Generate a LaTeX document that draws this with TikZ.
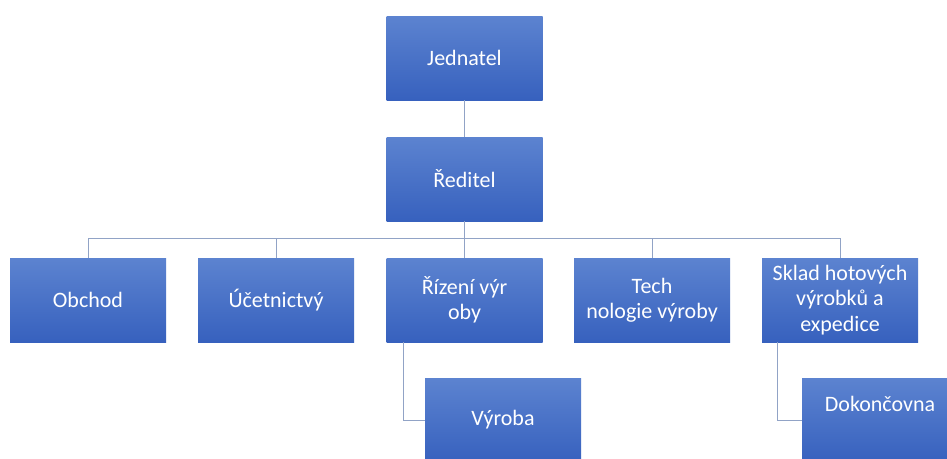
\documentclass[tikz,border=0pt]{standalone}
\usepackage{fontspec}
\setmainfont{Carlito}
\definecolor{boxtop}{RGB}{92,131,208}
\definecolor{boxbot}{RGB}{55,97,190}
\definecolor{linkcol}{RGB}{145,163,198}
\begin{document}
\begin{tikzpicture}[x=1pt,y=-1pt,
  orgbox/.style={rectangle,draw=none,top color=boxtop,bottom color=boxbot,
    minimum width=156pt,minimum height=84pt,inner sep=2pt,text=white,
    align=center,font=\fontsize{22}{25.5}\selectfont},
  link/.style={draw=linkcol,line width=1pt}]
\clip(0,0) rectangle (947,458);
\fill[white](0,0) rectangle (947,458);
% top
\node[orgbox] (jed) at (464.5,58) {Jednatel};
\node[orgbox] (red) at (464.5,179) {Ředitel};
% departments
\node[orgbox] (obchod) at (88,300) {Obchod};
\node[orgbox] (ucet) at (276,300) {Účetnictvý};
\node[orgbox] (rizeni) at (464.5,300) {Řízení výr\\oby};
\node[orgbox] (tech) at (652,300) {Tech\\nologie výroby};
\node[orgbox] (sklad) at (840,300) {Sklad hotových\\výrobků a\\expedice};
% lower level
\node[orgbox] (vyroba) at (503,420) {Výroba};
\node[orgbox] (dokon) at (880,420) {Dokončovna\\\strut};
% links
\draw[link](jed.south) -- (red.north);
\coordinate (bus) at (464.5,238);
\foreach \d in {obchod,ucet,rizeni,tech,sklad}
  \draw[link](red.south) -- (bus) -| (\d.north);
\draw[link]([xshift=17pt]rizeni.south west) |- (vyroba.west);
\draw[link]([xshift=16pt]sklad.south west) |- (dokon.west);
\end{tikzpicture}
\end{document}
